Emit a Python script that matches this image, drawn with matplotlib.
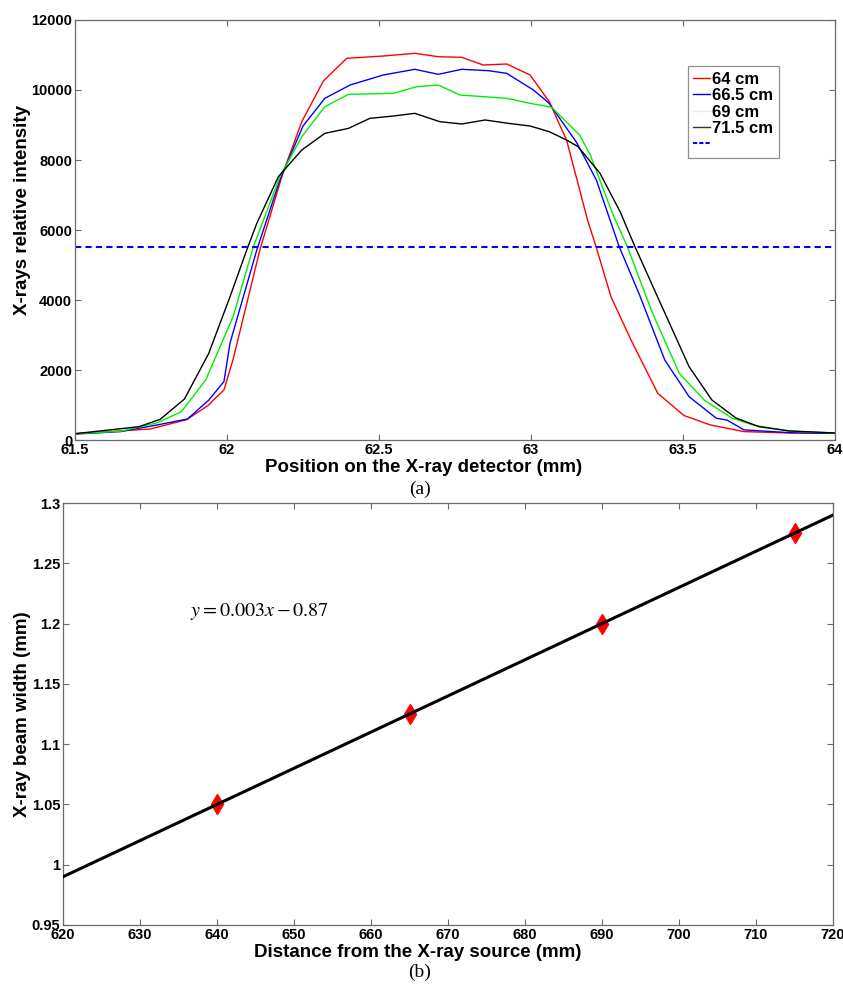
import matplotlib
matplotlib.use("Agg")
import matplotlib.pyplot as plt
from matplotlib.lines import Line2D
from matplotlib.ticker import FuncFormatter

# ---------------- data (a) ----------------
red_x = [61.50, 61.65, 61.747, 61.867, 61.94, 61.955, 61.99, 62.02, 62.108, 62.184, 62.246, 62.317, 62.394,
         62.514, 62.618, 62.695, 62.772, 62.843, 62.92, 62.997, 63.06, 63.117, 63.186, 63.214,
         63.263, 63.329, 63.417, 63.503, 63.59, 63.70, 63.85, 64.0]
red_y = [180, 260, 314, 580, 1000, 1140, 1430, 2300, 5430, 7630, 9094, 10257, 10906,
         10971, 11048, 10951, 10934, 10714, 10743, 10429, 9666, 8571, 6286, 5524,
         4095, 2857, 1333, 700, 430, 240, 200, 190]

blue_x = [61.50, 61.65, 61.77, 61.87, 61.94, 61.99, 62.01, 62.098, 62.174, 62.25, 62.322, 62.405,
          62.514, 62.618, 62.695, 62.772, 62.86, 62.92, 63.008, 63.06, 63.15, 63.215,
          63.29, 63.355, 63.44, 63.52, 63.61, 63.645, 63.70, 63.85, 64.0]
blue_y = [170, 240, 430, 600, 1140, 1670, 2770, 5430, 7430, 8971, 9763, 10143,
          10429, 10591, 10448, 10591, 10552, 10476, 10000, 9619, 8500, 7429,
          5524, 4190, 2286, 1238, 619, 570, 290, 210, 190]

green_x = [61.50, 61.65, 61.77, 61.85, 61.93, 62.02, 62.087, 62.174, 62.246, 62.322, 62.40,
           62.547, 62.624, 62.695, 62.766, 62.843, 62.92, 62.997, 63.068, 63.16, 63.195,
           63.268, 63.317, 63.40, 63.488, 63.57, 63.66, 63.73, 63.85, 64.0]
green_y = [180, 250, 490, 810, 1714, 3524, 5524, 7524, 8667, 9524, 9876,
           9905, 10095, 10143, 9857, 9810, 9762, 9619, 9505, 8714, 8143,
           6476, 5524, 3619, 1905, 1140, 630, 430, 250, 200]

black_x = [61.50, 61.71, 61.78, 61.86, 61.94, 62.01, 62.065, 62.098, 62.169, 62.246, 62.322,
           62.40, 62.47, 62.547, 62.618, 62.70, 62.772, 62.849, 62.925, 62.997, 63.06,
           63.117, 63.155, 63.227, 63.293, 63.342, 63.421, 63.52, 63.595, 63.674, 63.75,
           63.85, 64.0]
black_y = [180, 380, 590, 1170, 2476, 4095, 5429, 6190, 7524, 8286, 8762,
           8905, 9190, 9257, 9333, 9095, 9029, 9143, 9048, 8971, 8810,
           8571, 8381, 7619, 6524, 5524, 4000, 2095, 1143, 630, 380,
           260, 200]

threshold = 5500
legend_labels = ["64 cm", "66.5 cm", "69 cm", "71.5 cm", " "]

# ---------------- data (b) ----------------
dist = [640, 665, 690, 715]
width = [1.05, 1.125, 1.20, 1.275]
fit_slope = 0.003
fit_icpt = -0.87
fit_x = [620, 720]
eq_text = r"$y = 0.003x - 0.87$"

plt.rcParams['mathtext.fontset'] = 'stix'
TICKF = ['Liberation Sans', 'DejaVu Sans']
LAB = ['Liberation Sans', 'DejaVu Sans']
SPINE = '#6a6a6a'

fig = plt.figure(figsize=(8.43, 9.89), dpi=100)


def style(ax):
    ax.tick_params(direction='in', top=True, right=True, length=4, width=0.8,
                   color=SPINE, labelsize=10.5, pad=2)
    for s in ax.spines.values():
        s.set_color(SPINE)
        s.set_linewidth(0.9)
    for lab in ax.get_xticklabels() + ax.get_yticklabels():
        lab.set_fontfamily(TICKF)
        lab.set_fontweight('bold')


# ---- (a) ----
ax1 = fig.add_axes([75 / 843, 1 - 440 / 989, 760 / 843, 420 / 989])
ax1.plot(red_x, red_y, color='#ff0000', lw=1.0)
ax1.plot(blue_x, blue_y, color='#0000ff', lw=1.0)
ax1.plot(green_x, green_y, color='#00ee00', lw=1.0)
ax1.plot(black_x, black_y, color='black', lw=1.0)
ax1.axhline(threshold, color='#0000ff', lw=1.5, ls=(0, (3, 2)))
ax1.set_xlim(61.5, 64)
ax1.set_ylim(0, 12000)
ax1.set_xticks([61.5, 62, 62.5, 63, 63.5, 64])
ax1.set_yticks(range(0, 12001, 2000))
ax1.xaxis.set_major_formatter(FuncFormatter(lambda v, p: f"{v:g}"))
style(ax1)
ax1.set_xlabel("Position on the X-ray detector (mm)", fontfamily=LAB,
               fontweight='bold', fontsize=13.5)
ax1.set_ylabel("X-rays relative intensity", fontfamily=LAB,
               fontweight='bold', fontsize=13.5)
ax1.xaxis.set_label_coords((424 - 75) / 760, -0.045)
ax1.yaxis.set_label_coords(-0.058, (440 - 210) / 420)

handles = [Line2D([], [], color='#ff0000', lw=1),
           Line2D([], [], color='#0000ff', lw=1),
           Line2D([], [], color='#ddf5dd', lw=1),
           Line2D([], [], color='#333333', lw=1),
           Line2D([], [], color='#0000ff', lw=1.5, ls=(0, (2, 1)))]
leg = ax1.legend(handles, legend_labels, loc='upper left',
                 bbox_to_anchor=(0.795, 0.91), handlelength=1.0,
                 handletextpad=0.1, borderpad=0.35, labelspacing=0.08,
                 fancybox=False, framealpha=1,
                 prop={'family': ['Liberation Sans', 'DejaVu Sans'], 'weight': 'bold', 'size': 12})
leg.get_frame().set_edgecolor('#909090')
leg.get_frame().set_linewidth(0.9)

fig.text(420 / 843, 1 - 489 / 989, "(a)", ha='center', va='center',
         fontfamily=['Liberation Serif', 'DejaVu Serif'], fontsize=14)

# ---- (b) ----
ax2 = fig.add_axes([63 / 843, 1 - 925 / 989, 770 / 843, 422 / 989])
ax2.plot(dist, width, ls='none', marker='d', ms=10, color='#ff0000',
         markeredgecolor='#ff0000', zorder=2)
fy = [fit_slope * v + fit_icpt for v in fit_x]
ax2.plot(fit_x, fy, color='black', lw=2.2, zorder=3)
ax2.set_xlim(620, 720)
ax2.set_ylim(0.95, 1.3)
ax2.set_xticks(range(620, 721, 10))
ax2.set_yticks([0.95, 1.0, 1.05, 1.1, 1.15, 1.2, 1.25, 1.3])
ax2.yaxis.set_major_formatter(FuncFormatter(lambda v, p: f"{round(v, 2):g}"))
style(ax2)
ax2.set_xlabel("Distance from the X-ray source (mm)", fontfamily=LAB,
               fontweight='bold', fontsize=13.5)
ax2.set_ylabel("X-ray beam width (mm)", fontfamily=LAB,
               fontweight='bold', fontsize=13.5)
ax2.xaxis.set_label_coords((418 - 63) / 770, -0.045)
ax2.yaxis.set_label_coords(-0.041, 0.5)
ax2.text(636.5, 1.2096, eq_text, fontsize=14.5, ha='left', va='center')

fig.text(420 / 843, 1 - 972 / 989, "(b)", ha='center', va='center',
         fontfamily=['Liberation Serif', 'DejaVu Serif'], fontsize=14)

fig.savefig("out.png", dpi=100)
